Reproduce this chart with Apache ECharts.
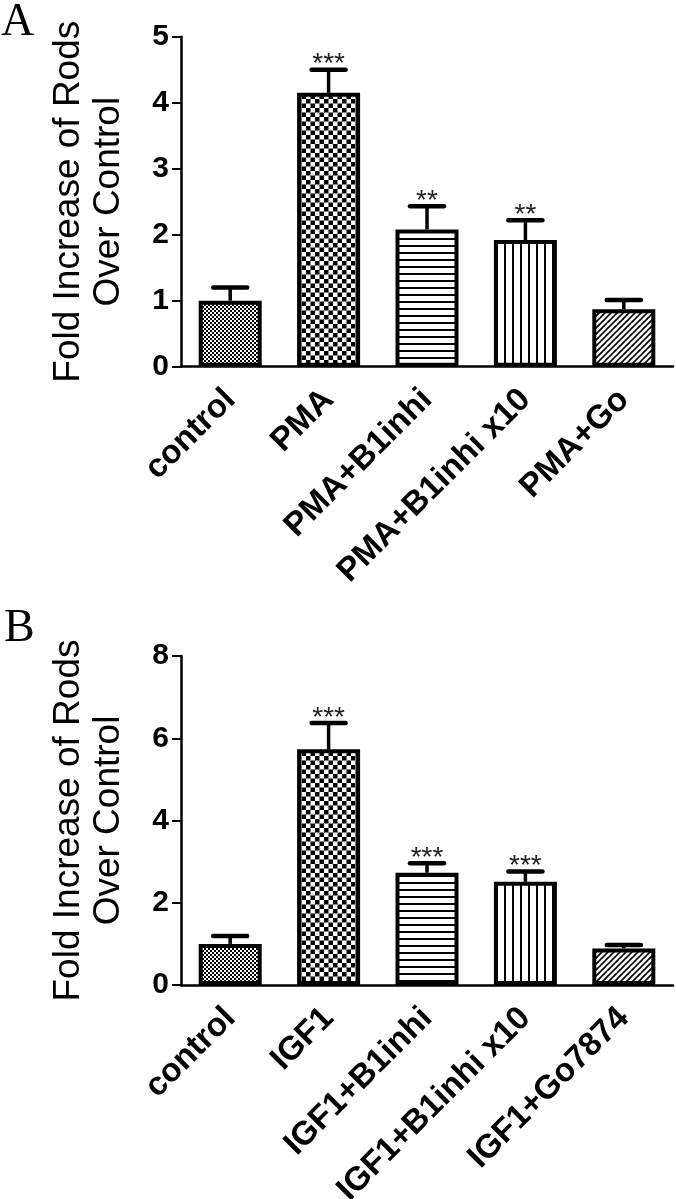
<!DOCTYPE html>
<html>
<head>
<meta charset="utf-8">
<script src="https://cdn.jsdelivr.net/npm/echarts@6/dist/echarts.min.js"></script>
<style>
  html, body { margin: 0; padding: 0; background: #fff; }
  #chart { width: 676px; height: 1199px; }
</style>
</head>
<body>
<div id="chart"></div>
<script>
// ---------- data ----------
const categoriesA = ['control', 'PMA', 'PMA+B1inhi', 'PMA+B1inhi x10', 'PMA+Go'];
const valuesA = [1.0, 4.15, 2.08, 1.92, 0.87];
const errorsA = [0.2, 0.35, 0.35, 0.30, 0.14];
const sigA = ['', '***', '**', '**', ''];
const yTicksA = { min: 0, max: 5, interval: 1 };

const categoriesB = ['control', 'IGF1', 'IGF1+B1inhi', 'IGF1+B1inhi x10', 'IGF1+Go7874'];
const valuesB = [1.0, 5.73, 2.73, 2.51, 0.89];
const errorsB = [0.19, 0.64, 0.23, 0.25, 0.08];
const sigB = ['', '***', '***', '***', ''];
const yTicksB = { min: 0, max: 8, interval: 2 };

const yTitle = 'Fold Increase of Rods\nOver Control';
const panelLabels = ['A', 'B'];

// ---------- patterns ----------
function tile(w, h, draw) {
  const c = document.createElement('canvas');
  c.width = w; c.height = h;
  const ctx = c.getContext('2d');
  ctx.fillStyle = '#fff';
  ctx.fillRect(0, 0, w, h);
  ctx.fillStyle = '#000';
  ctx.strokeStyle = '#000';
  draw(ctx);
  return { image: c, repeat: 'repeat' };
}
const patterns = [
  tile(4, 4, ctx => { ctx.fillRect(0, 0, 2, 2); ctx.fillRect(2, 2, 2, 2); }),
  tile(9, 9, ctx => { ctx.fillRect(0, 0, 4.5, 4.5); ctx.fillRect(4.5, 4.5, 4.5, 4.5); }),
  tile(7, 7, ctx => { ctx.fillRect(0, 0, 7, 2); }),
  tile(8, 8, ctx => { ctx.fillRect(0, 0, 2, 8); }),
  tile(6, 6, ctx => {
    ctx.lineWidth = 1.6;
    ctx.beginPath();
    ctx.moveTo(-1, 7); ctx.lineTo(7, -1);
    ctx.moveTo(-1, 1); ctx.lineTo(1, -1);
    ctx.moveTo(5, 7); ctx.lineTo(7, 5);
    ctx.stroke();
  })
];

// ---------- helpers ----------
const FONT = '"Liberation Sans", Arial, sans-serif';

function barData(values) {
  return values.map((v, i) => ({
    value: v,
    itemStyle: { color: patterns[i], borderColor: '#000', borderWidth: 4 }
  }));
}
function errData(values, errors) {
  return values.map((v, i) => [i, v, v + errors[i]]);
}
function errRender(sig) {
  return function (params, api) {
    const top = api.coord([api.value(0), api.value(2)]);
    const base = api.coord([api.value(0), api.value(1)]);
    const half = 17;
    const children = [
      { type: 'line', shape: { x1: top[0], y1: base[1], x2: top[0], y2: top[1] },
        style: { stroke: '#000', lineWidth: 3.5 } },
      { type: 'line', shape: { x1: top[0] - half, y1: top[1], x2: top[0] + half, y2: top[1] },
        style: { stroke: '#000', lineWidth: 4.5, lineCap: 'round' } }
    ];
    const s = sig[params.dataIndex];
    if (s) {
      children.push({
        type: 'text',
        style: {
          text: s, x: top[0], y: top[1] - 5,
          align: 'center', verticalAlign: 'middle',
          font: '28px ' + FONT, fill: '#222'
        }
      });
    }
    return { type: 'group', children: children };
  };
}

function xAxisFor(gridIndex, cats) {
  return {
    type: 'category', gridIndex: gridIndex, data: cats,
    axisLine: { lineStyle: { color: '#000', width: 2.5 } },
    axisTick: { alignWithLabel: true, length: 9, lineStyle: { color: '#000', width: 2 } },
    axisLabel: {
      rotate: 45, margin: 28, interval: 0, hideOverlap: false,
      color: '#000', fontFamily: FONT, fontWeight: 'bold', fontSize: 33
    }
  };
}
function yAxisFor(gridIndex, t) {
  return {
    type: 'value', gridIndex: gridIndex, min: t.min, max: t.max, interval: t.interval,
    name: yTitle, nameLocation: 'middle', nameRotate: 90, nameGap: 52,
    nameTextStyle: { color: '#000', fontFamily: FONT, fontSize: 37, lineHeight: 40 },
    splitLine: { show: false },
    axisLine: { show: true, lineStyle: { color: '#000', width: 2.5 } },
    axisTick: { show: true, length: 9, lineStyle: { color: '#000', width: 2 } },
    axisLabel: { margin: 12, color: '#000', fontFamily: FONT, fontWeight: 'bold', fontSize: 30 }
  };
}

const option = {
  animation: false,
  backgroundColor: '#fff',
  grid: [
    { left: 181, right: 3, top: 36.7, height: 330, containLabel: false, outerBoundsMode: 'none' },
    { left: 181, right: 3, top: 656, height: 329, containLabel: false, outerBoundsMode: 'none' }
  ],
  xAxis: [xAxisFor(0, categoriesA), xAxisFor(1, categoriesB)],
  yAxis: [yAxisFor(0, yTicksA), yAxisFor(1, yTicksB)],
  graphic: [
    { type: 'text', left: 1, top: 0,
      style: { text: panelLabels[0], font: '46px "Liberation Serif", "Times New Roman", serif', fill: '#000' } },
    { type: 'text', left: 4, top: 606,
      style: { text: panelLabels[1], font: '46px "Liberation Serif", "Times New Roman", serif', fill: '#000' } }
  ],
  series: [
    { type: 'bar', xAxisIndex: 0, yAxisIndex: 0, barWidth: 63, data: barData(valuesA), z: 2 },
    { type: 'custom', xAxisIndex: 0, yAxisIndex: 0, data: errData(valuesA, errorsA),
      renderItem: errRender(sigA), z: 3, encode: { x: 0, y: [1, 2] } },
    { type: 'bar', xAxisIndex: 1, yAxisIndex: 1, barWidth: 63, data: barData(valuesB), z: 2 },
    { type: 'custom', xAxisIndex: 1, yAxisIndex: 1, data: errData(valuesB, errorsB),
      renderItem: errRender(sigB), z: 3, encode: { x: 0, y: [1, 2] } }
  ]
};

const chart = echarts.init(document.getElementById('chart'), null, { renderer: 'canvas' });
chart.setOption(option);
</script>
</body>
</html>
